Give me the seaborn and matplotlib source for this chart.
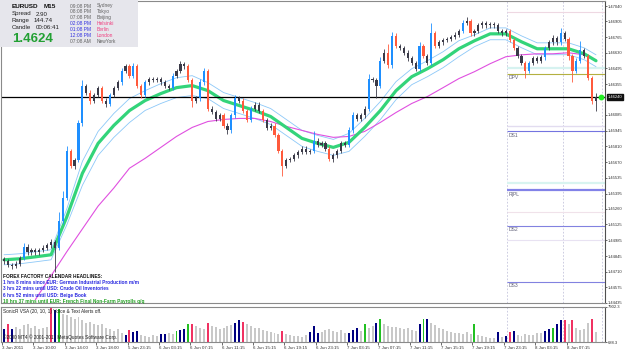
import numpy as np
import matplotlib
matplotlib.use("Agg")
import matplotlib.pyplot as plt
import seaborn as sns
from matplotlib.patches import Rectangle
from matplotlib.transforms import blended_transform_factory

# ---------------- data (EURUSD, 30-min candles) ----------------
first_open = 1.4482
closes = [
    1.4480, 1.4477, 1.4476, 1.4478, 1.4483, 1.4493, 1.4488, 1.4490, 1.4488, 1.4490,
    1.4492, 1.4494, 1.4497, 1.4492, 1.4515, 1.4536, 1.4577, 1.4564, 1.4569, 1.4601,
    1.4634, 1.4628, 1.4621, 1.4626, 1.4632, 1.4621, 1.4618, 1.4626, 1.4632, 1.4637,
    1.4647, 1.4651, 1.4643, 1.4651, 1.4634, 1.4626, 1.4637, 1.4640, 1.4639, 1.4640,
    1.4637, 1.4634, 1.4632, 1.4643, 1.4647, 1.4653, 1.4651, 1.4639, 1.4621, 1.4623,
    1.4637, 1.4647, 1.4614, 1.4611, 1.4605, 1.4608, 1.4599, 1.4595, 1.4608, 1.4623,
    1.4621, 1.4612, 1.4604, 1.4614, 1.4617, 1.4612, 1.4604, 1.4597, 1.4599, 1.4591,
    1.4577, 1.4564, 1.4569, 1.4570, 1.4573, 1.4576, 1.4579, 1.4576, 1.4577, 1.4586,
    1.4582, 1.4584, 1.4579, 1.4570, 1.4573, 1.4577, 1.4584, 1.4582, 1.4595, 1.4608,
    1.4605, 1.4608, 1.4614, 1.4640, 1.4639, 1.4634, 1.4656, 1.4663, 1.4652, 1.4678,
    1.4669, 1.4667, 1.4663, 1.4658, 1.4654, 1.4649, 1.4669, 1.4660, 1.4654, 1.4680,
    1.4669, 1.4672, 1.4674, 1.4675, 1.4677, 1.4679, 1.4682, 1.4689, 1.4691, 1.4680,
    1.4682, 1.4687, 1.4689, 1.4687, 1.4688, 1.4687, 1.4682, 1.4680, 1.4682, 1.4674,
    1.4667, 1.4660, 1.4654, 1.4647, 1.4654, 1.4658, 1.4656, 1.4659, 1.4667, 1.4672,
    1.4676, 1.4672, 1.4680, 1.4675, 1.4660, 1.4647, 1.4656, 1.4665, 1.4660, 1.4641,
    1.4621, 1.4624,
]
# wick lengths beyond the body, in pips
upper_wick = [
    2, 2, 2, 2, 2, 3, 2, 2, 2, 2,  2, 2, 3, 2, 8, 6, 4, 2, 2, 3,
    5, 2, 2, 2, 2, 2, 2, 2, 2, 2,  3, 2, 2, 3, 2, 2, 2, 2, 2, 2,
    2, 2, 2, 2, 2, 3, 2, 2, 2, 2,  3, 3, 2, 2, 2, 2, 2, 2, 2, 3,
    2, 2, 2, 2, 3, 3, 2, 2, 2, 2,  2, 2, 2, 2, 2, 2, 2, 2, 2, 8,
    2, 2, 2, 2, 2, 2, 2, 2, 3, 3,  2, 2, 2, 4, 2, 2, 3, 3, 8, 3,
    2, 2, 2, 2, 2, 2, 3, 2, 2, 9,  2, 2, 2, 2, 2, 2, 2, 3, 3, 2,
    2, 2, 2, 2, 2, 2, 2, 2, 2, 2,  2, 2, 2, 2, 2, 2, 2, 2, 2, 2,
    3, 2, 5, 2, 2, 2, 2, 8, 2, 2,  2, 4,
]
lower_wick = [
    2, 2, 3, 2, 2, 2, 2, 2, 2, 2,  2, 2, 2, 21, 2, 2, 2, 2, 3, 2,
    2, 2, 3, 2, 2, 2, 3, 2, 2, 2,  2, 2, 2, 2, 2, 3, 2, 2, 2, 2,
    2, 2, 2, 2, 2, 2, 2, 2, 6, 2,  2, 2, 2, 2, 2, 2, 2, 3, 2, 2,
    2, 2, 2, 2, 2, 2, 2, 2, 2, 2,  2, 9, 2, 2, 2, 2, 2, 2, 2, 2,
    2, 2, 2, 2, 3, 2, 2, 2, 2, 2,  2, 2, 2, 2, 2, 11, 2, 2, 2, 2,
    2, 2, 2, 2, 2, 2, 2, 2, 2, 2,  2, 2, 2, 2, 2, 2, 2, 2, 2, 2,
    2, 2, 2, 2, 2, 2, 2, 2, 2, 2,  2, 2, 2, 6, 2, 2, 2, 2, 2, 2,
    2, 2, 2, 2, 3, 10, 2, 2, 2, 2,  3, 9,
]
volumes = [
    3300, 4300, 3400, 3800, 3400, 4200, 4400, 3600, 3900, 3300,
    3500, 3800, 7600, 7200, 7400, 6500, 6200, 5800, 5500, 5900,
    5200, 4700, 4900, 4500, 4100, 4300, 3600, 3300, 3000, 3400,
    2600, 2100, 3200, 2800, 2900, 2200, 2000, 1800, 2200, 1900,
    2300, 2400, 2500, 2300, 3000, 3100, 3400, 4400, 4500, 3900,
    3600, 3300, 4600, 3900, 3700, 3400, 3600, 3900, 4100, 4700,
    5200, 4900, 4300, 3900, 3600, 3500, 3200, 3000, 2800, 2500,
    2300, 3000, 2400, 2100, 1900, 2000, 1800, 2100, 2800, 4000,
    2500, 2800, 3100, 3400, 3000, 2800, 3200, 2600, 2600, 3200,
    3500, 3000, 4300, 3600, 3900, 4700, 5400, 4400, 4000, 3800,
    3700, 3500, 3400, 3500, 3100, 2900, 4300, 5400, 5500, 4700,
    4200, 3600, 3400, 3000, 2800, 2600, 2500, 2400, 2800, 2400,
    4400, 2200, 1900, 1700, 1600, 1500, 2700, 1700, 2000, 2700,
    3000, 2200, 2000, 2300, 2100, 2200, 2500, 2600, 2900, 3300,
    3500, 4400, 5200, 5300, 4300, 5300, 3600, 3100, 3400, 4600,
    5500, 2800,
]
# VSA bar class: g=normal, n=navy, r=red, e=green
vol_codes = ("nrnggggggg" "ggrneggggg" "gggggggggg" "gnrnnggggg" "nnggennerg"
             "ggrggggggn" "nrgggggggg" "grggggggnn" "ngggggggnn" "ngeggneggg"
             "ggggggneng" "gggggggggg" "egggggngnr" "ngggggggnn" "ennrgrgggg" "rg")

# moving averages read at every 4th candle
ma_idx = list(range(0, 149, 4)) + [151]
green_ma = [1.44814, 1.44823, 1.44840, 1.44858, 1.45189, 1.45573, 1.45835, 1.45992,
            1.46123, 1.46211, 1.46272, 1.46324, 1.46342, 1.46298, 1.46211, 1.46167,
            1.46123, 1.46071, 1.45975, 1.45879, 1.45835, 1.45800, 1.45844, 1.45975,
            1.46123, 1.46298, 1.46420, 1.46490, 1.46569, 1.46665, 1.46735, 1.46796,
            1.46796, 1.46726, 1.46665, 1.46665, 1.46665, 1.46621, 1.46560]
band_half = [0.00044] * 4 + [0.0007] + [0.00105] * 4 + [0.00087] * 4 + [0.0007] * 9 \
            + [0.00079] * 4 + [0.0007] * 4 + [0.00052] * 9
mag_idx = list(range(8, 149, 4)) + [151]
mag_ma = [1.44465, 1.44674, 1.44884, 1.45085, 1.45285, 1.45443, 1.45617, 1.45704,
          1.45800, 1.45896, 1.45975, 1.46027, 1.46045, 1.46054, 1.46054, 1.46027,
          1.45984, 1.45949, 1.45914, 1.45888, 1.45896, 1.45940, 1.46019, 1.46106,
          1.46185, 1.46246, 1.46324, 1.46403, 1.46464, 1.46534, 1.46595, 1.46612,
          1.46621, 1.46621, 1.46630, 1.46612, 1.46560]

bid = 1.4624
# 1.46220 sits under the bid tag in the reference, so it is not printed
ytick_vals = [1.47040, 1.46905, 1.46765, 1.46630, 1.46495, 1.46355, 1.46085,
              1.45945, 1.45810, 1.45670, 1.45535, 1.45395, 1.45260, 1.45125, 1.44985,
              1.44845, 1.44710, 1.44575, 1.44435]
xtick_labels = ["3 Jun 2011", "3 Jun 10:00", "3 Jun 14:00", "3 Jun 18:00", "5 Jun 23:15",
                "6 Jun 03:15", "6 Jun 07:15", "6 Jun 11:15", "6 Jun 15:15", "6 Jun 19:15",
                "6 Jun 23:15", "7 Jun 03:15", "7 Jun 07:15", "7 Jun 11:15", "7 Jun 15:15",
                "7 Jun 19:15", "7 Jun 23:15", "8 Jun 03:15", "8 Jun 07:15"]
# daily pivot levels (price, label, colour, width)
pivots = [
    (1.46988, "", "#EED8E2", 0.8), (1.46499, "", "#D6F2F0", 1.6),
    (1.46447, "DPV", "#B4B040", 0.8), (1.45984, "", "#E2DCF0", 1.0),
    (1.45940, "DS1", "#7474E0", 0.8), (1.45486, "", "#D8F4F0", 1.6),
    (1.45425, "R|PL", "#8282E8", 1.6), (1.45233, "", "#F0E2EA", 0.8),
    (1.45111, "DS2", "#8282E0", 0.8), (1.44989, "", "#E8E2F2", 0.8),
    (1.44622, "DS3", "#8282E0", 0.8),
]
vlines_idx = [128.3, 142.5, 152.5]
vol_min, vol_max = 688.3, 7902.3

# ---------------- figure ----------------
sns.set_theme(style="white")
plt.rcParams['font.family'] = ['Liberation Sans', 'DejaVu Sans']

W, H = 625, 352
fig = plt.figure(figsize=(W / 100, H / 100), dpi=100)
fig.patch.set_facecolor("white")


def fx(x):
    return x / W


def fy(y):
    return 1 - y / H


ax = fig.add_axes([fx(1.5), fy(303), fx(605) - fx(1.5), fy(1) - fy(303)])
axv = fig.add_axes([fx(1.5), fy(342), fx(605) - fx(1.5), fy(307) - fy(342)], sharex=ax)

closes_a = np.array(closes)
n = len(closes_a)
idx = np.arange(n)
opens = np.r_[first_open, closes_a[:-1]]
hi = np.maximum(opens, closes_a) + np.array(upper_wick) * 0.0001
lo = np.minimum(opens, closes_a) - np.array(lower_wick) * 0.0001
body = closes_a - opens
UP, DN, NEU = "#1E8FFF", "#FF5A3C", "#3A3A48"
ccol = np.where(body >= 0.0007, UP, np.where(body <= -0.0007, DN, NEU))

# pivots and separators
for p, lab, c, lw in pivots:
    ax.hlines(p, vlines_idx[0], 153.3, color=c, lw=lw, zorder=1)
    if lab:
        ax.text(vlines_idx[0] + 0.4, p - 0.00012, lab, fontsize=3.6, color="#606078",
                va="top", ha="left", zorder=6)
for a in (ax, axv):
    for v in vlines_idx:
        a.axvline(v, color="#C4C4DC", lw=0.6, ls=(0, (2, 2)), zorder=0.5)

# moving averages
gma = np.array(green_ma)
bh = np.array(band_half)
sns.lineplot(x=ma_idx, y=gma + bh, ax=ax, color="#8CC8F8", linewidth=0.6, zorder=2)
sns.lineplot(x=ma_idx, y=gma - bh, ax=ax, color="#8CC8F8", linewidth=0.6, zorder=2)
sns.lineplot(x=mag_idx, y=mag_ma, ax=ax, color="#E050E0", linewidth=0.8, zorder=2)
sns.lineplot(x=ma_idx, y=gma, ax=ax, color="#33D47A", linewidth=2.3, zorder=2.2)

# bid line
ax.axhline(bid, color="black", lw=0.9, zorder=2.5)

# candles
ax.vlines(idx, lo, hi, colors=ccol, lw=0.6, zorder=3)
ax.bar(idx, np.maximum(np.abs(body), 0.00006), bottom=np.minimum(opens, closes_a),
       width=0.55, color=ccol, linewidth=0, zorder=4)

ax.plot([152.3], [bid], "o", color="#22EE22", ms=3.2, zorder=7, clip_on=False)
tr = blended_transform_factory(ax.transAxes, ax.transData)
ax.text(1.005, bid, "1.46240", transform=tr, fontsize=3.0, color="white", va="center",
        ha="left", clip_on=False, zorder=8,
        bbox=dict(boxstyle="square,pad=0.2", fc="#101010", ec="#101010"))

ax.set_xlim(-0.64, 153.3)
ax.set_ylim(1.44438, 1.47084)

# volume
vcol = {"g": "#C8C8C8", "n": "#000080", "r": "#F03262", "e": "#22C022"}
axv.bar(idx, volumes, width=0.5, color=[vcol[c] for c in vol_codes], linewidth=0, zorder=2)
axv.set_ylim(vol_min, vol_max)

# axes styling
for a in (ax, axv):
    a.set_facecolor("white")
    a.grid(False)
    for s in a.spines.values():
        s.set_color("#8A8A8A")
        s.set_linewidth(0.8)
    a.spines["right"].set_color("#505050")

ax.yaxis.tick_right()
ax.set_yticks(ytick_vals)
ax.set_yticklabels([f"{v:.5f}" for v in ytick_vals])
ax.tick_params(axis="y", right=True, left=False, length=1.5, width=0.5, pad=0.8,
               labelsize=3.0, colors="#303030")
ax.tick_params(axis="x", bottom=False, labelbottom=False)

axv.yaxis.tick_right()
axv.set_yticks([vol_min, vol_max])
axv.set_yticklabels([f"{vol_min:.1f}", f"{vol_max:.1f}"])
axv.tick_params(axis="y", right=True, left=False, length=1.5, width=0.5, pad=0.8,
                labelsize=3.0, colors="#303030")
axv.set_xticks([8 * k - 0.5 for k in range(len(xtick_labels))])
axv.set_xticklabels(xtick_labels)
axv.tick_params(axis="x", bottom=True, length=2, width=0.5, pad=1, labelsize=3.2,
                colors="#303030")
for lbl in axv.get_xticklabels():
    lbl.set_ha("left")

# info box (top left)
fig.patches.append(Rectangle((fx(0), fy(47)), fx(138), fy(0) - fy(47), transform=fig.transFigure,
                             facecolor="#E6E6EC", edgecolor="none", zorder=5))


def ft(x, y, s, **kw):
    fig.text(fx(x), fy(y), s, va="center", ha="left", zorder=6, **kw)


ft(12, 6, "EURUSD", fontsize=4.6, fontweight="bold", color="#101010")
ft(44, 6, "M15", fontsize=4.6, fontweight="bold", color="#101010")
ft(12, 14, "Spread", fontsize=4.4, color="#202020")
ft(36, 14, "2.90", fontsize=4.4, color="#202020")
ft(12, 20.5, "Range", fontsize=4.4, color="#202020")
ft(34, 20.5, "144.74", fontsize=4.4, color="#202020")
ft(12, 27.5, "Candle", fontsize=4.4, color="#202020")
ft(36, 27.5, "00:06:41", fontsize=4.4, color="#202020")
ft(12, 39, "1.4624", fontsize=9.5, fontweight="bold", color="#22A033")

clock_rows = [("09:08 PM", "Sydney", "#606060", "#606060"),
              ("08:08 PM", "Tokyo", "#606060", "#606060"),
              ("07:08 PM", "Beijing", "#606060", "#606060"),
              ("02:08 PM", "Helsinki", "#3030E0", "#F04080"),
              ("01:08 PM", "Berlin", "#3030E0", "#F04080"),
              ("12:08 PM", "London", "#3030E0", "#F04080"),
              ("07:08 AM", "NewYork", "#606060", "#606060")]
for k, (t, city, c1, c2) in enumerate(clock_rows):
    yy = 6 + k * 5.85
    ft(70, yy, t, fontsize=3.5, color=c1)
    ft(97, yy, city, fontsize=3.5, color=c2)

# calendar headlines
ft(3, 276, "FOREX FACTORY CALENDAR HEADLINES:", fontsize=3.4, fontweight="bold", color="#101010")
ft(3, 283, "1 hrs 8 mins since EUR: German Industrial Production m/m", fontsize=3.4,
   fontweight="bold", color="#2828E0")
ft(3, 289, "3 hrs 22 mins until USD: Crude Oil Inventories", fontsize=3.4,
   fontweight="bold", color="#2828E0")
ft(3, 295, "6 hrs 52 mins until USD: Beige Book", fontsize=3.4, fontweight="bold", color="#2828E0")
ft(3, 301, "10 hrs 37 mins until EUR: French Final Non-Farm Payrolls q/q", fontsize=3.4,
   fontweight="bold", color="#22A022")

# volume panel texts
ft(3, 312, "SonicR VSA (20, 10, 1) Voice & Text Alerts off.", fontsize=3.4, color="#202020")
ft(3, 337.5, "\u00a92000 MT4 \u00a9 2001-2011 MetaQuotes Software Corp.", fontsize=3.4,
   color="#202020")

fig.savefig("out.png", dpi=100, facecolor="white")
